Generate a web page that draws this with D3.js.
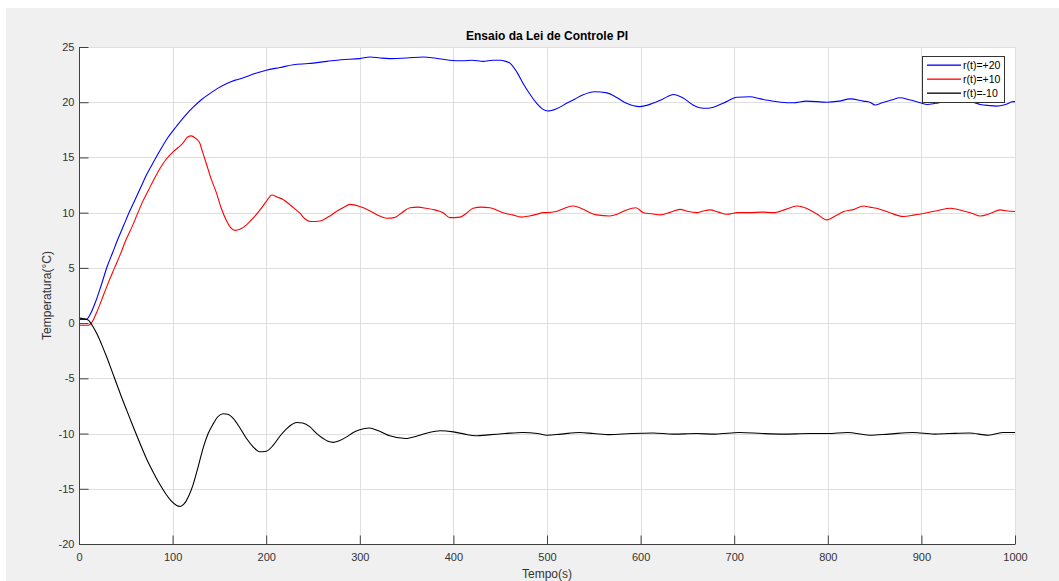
<!DOCTYPE html>
<html>
<head>
<meta charset="utf-8">
<script src="https://cdn.jsdelivr.net/npm/d3@7"></script>
<style>
  html, body { margin: 0; padding: 0; background: #ffffff; }
  svg { display: block; font-family: "Liberation Sans", Arial, Helvetica, sans-serif; }
</style>
</head>
<body>
<svg id="chart" width="1059" height="581"></svg>
<script>
// Step responses of the PI controller for three set-points (time in s, temperature in °C)
const tBlue = [0, 8, 12, 18, 24, 30, 36, 42, 48, 54, 60, 66, 72, 79, 87, 95, 104, 113, 122, 131, 140, 149, 158, 167, 175, 188, 200, 215, 229, 245, 265, 280, 300, 311, 322, 332, 350, 368, 380, 396, 410, 420, 432, 442, 450, 456, 461, 468, 474.5, 482, 489, 495, 501, 510, 521, 530, 538, 551, 564, 575, 585, 599, 613, 624, 635, 645, 656, 663, 672, 688, 703, 717, 728, 738, 750, 763, 777, 799, 812, 824, 838, 845, 850.5, 858, 868, 877, 888, 895, 906, 915, 925, 940, 955, 963, 972, 980, 990, 998, 1000];
const vBlue = [0.33, 0.35, 0.8, 2.0, 3.5, 5.1, 6.4, 7.7, 8.9, 10.1, 11.2, 12.3, 13.4, 14.5, 15.7, 16.8, 17.8, 18.75, 19.55, 20.25, 20.8, 21.3, 21.7, 22.0, 22.2, 22.6, 22.9, 23.15, 23.4, 23.5, 23.7, 23.85, 23.95, 24.1, 24.0, 23.95, 24.0, 24.1, 24.0, 23.8, 23.75, 23.8, 23.7, 23.8, 23.8, 23.7, 23.5, 22.7, 21.7, 20.7, 19.9, 19.4, 19.2, 19.4, 19.9, 20.3, 20.65, 20.95, 20.85, 20.4, 19.9, 19.6, 19.9, 20.3, 20.7, 20.4, 19.75, 19.5, 19.45, 19.9, 20.45, 20.5, 20.3, 20.15, 20.0, 19.95, 20.1, 20.0, 20.1, 20.3, 20.1, 20.0, 19.75, 19.95, 20.2, 20.4, 20.2, 20.05, 19.8, 19.9, 20.05, 20.1, 20.0, 19.8, 19.7, 19.65, 19.8, 20.05, 20.05];

const tRed = [0, 10, 14, 20, 26, 32, 38, 44, 50, 56, 62, 68, 74, 80, 86.5, 92, 97, 101, 106, 111, 116, 120, 125, 129, 132, 136, 141, 147, 152, 158, 162, 166.7, 172, 179, 186, 193, 200, 206, 212, 218, 227, 236, 242, 246.8, 257.5, 266, 275, 283, 289.5, 300, 310, 320, 329, 337, 345, 353.6, 362, 371, 380, 389, 396, 407, 414, 421, 430, 439, 446, 453, 463, 473, 481, 489, 496, 500, 510, 520, 528, 539, 546, 553, 567, 576, 585, 595, 603, 612, 621, 632, 642, 651, 660, 667, 674, 683, 692, 704, 717, 730, 742, 755, 767, 777, 788, 799, 808, 817, 828, 838, 845, 852, 866, 880.6, 893, 906, 918, 931, 945, 954, 963, 974, 984, 992, 1000];
const vRed = [-0.2, -0.2, 0.1, 1.2, 2.5, 3.8, 5.0, 6.2, 7.5, 8.6, 9.8, 11.0, 12.0, 13.0, 14.0, 14.7, 15.2, 15.55, 15.9, 16.3, 16.85, 16.95, 16.7, 16.3, 15.5, 14.45, 13.1, 11.75, 10.4, 9.2, 8.65, 8.4, 8.5, 8.9, 9.5, 10.2, 11.0, 11.6, 11.4, 11.2, 10.6, 9.95, 9.4, 9.2, 9.25, 9.6, 10.1, 10.5, 10.75, 10.55, 10.2, 9.75, 9.5, 9.55, 10.0, 10.45, 10.5, 10.4, 10.25, 10.0, 9.55, 9.6, 9.95, 10.4, 10.5, 10.45, 10.25, 10.0, 9.8, 9.6, 9.7, 9.85, 10.0, 10.0, 10.1, 10.45, 10.6, 10.3, 10.0, 9.8, 9.7, 9.9, 10.25, 10.45, 10.0, 9.9, 9.8, 10.05, 10.3, 10.1, 10.0, 10.15, 10.25, 10.05, 9.85, 10.0, 10.0, 10.05, 10.0, 10.3, 10.6, 10.4, 9.9, 9.35, 9.7, 10.1, 10.3, 10.6, 10.5, 10.4, 10.0, 9.65, 9.8, 10.0, 10.2, 10.4, 10.15, 9.95, 9.7, 9.95, 10.25, 10.15, 10.1];

const tBlack = [0, 5, 10, 14, 19, 24, 29.5, 35, 40, 45, 51, 58, 65, 72, 79, 86, 93, 99, 104, 108, 112, 117, 122, 127, 133, 138, 143.5, 148, 154, 159, 165, 172, 179, 186, 193, 200, 207.6, 215, 222, 227, 232.5, 239, 246.8, 254, 261, 266, 271.6, 278, 286, 293, 300, 310, 320, 332, 349, 362, 374, 386, 400, 412, 423.6, 440, 455, 474, 490, 500, 515, 534.6, 550, 567, 590, 613, 635, 659.5, 680, 705.7, 730, 752, 780, 800, 821, 844.5, 865, 890.8, 913.8, 930, 951, 971.7, 988, 1000];
const vBlack = [0.45, 0.4, 0.27, -0.2, -0.95, -1.9, -3.05, -4.3, -5.45, -6.6, -7.9, -9.4, -10.85, -12.25, -13.45, -14.55, -15.5, -16.15, -16.5, -16.6, -16.4, -15.7, -14.6, -13.1, -11.2, -10.0, -9.1, -8.5, -8.2, -8.25, -8.65, -9.5, -10.45, -11.2, -11.65, -11.6, -11.05, -10.2, -9.55, -9.2, -9.0, -9.05, -9.4, -10.0, -10.45, -10.7, -10.8, -10.65, -10.3, -9.9, -9.65, -9.5, -9.75, -10.2, -10.45, -10.2, -9.9, -9.75, -9.85, -10.05, -10.2, -10.1, -10.0, -9.9, -10.0, -10.15, -10.05, -9.9, -10.0, -10.1, -10.0, -9.95, -10.05, -10.0, -10.05, -9.9, -10.0, -10.05, -10.0, -10.0, -9.9, -10.15, -10.05, -9.9, -10.05, -10.0, -9.95, -10.15, -9.9, -9.9];

const seriesNames = ["r(t)=+20", "r(t)=+10", "r(t)=-10"];
const seriesColors = ["#0000ff", "#ff0000", "#000000"];
const xTicks = [0, 100, 200, 300, 400, 500, 600, 700, 800, 900, 1000];
const yTicks = [-20, -15, -10, -5, 0, 5, 10, 15, 20, 25];
const titleText = "Ensaio da Lei de Controle PI";
const xLabel = "Tempo(s)";
const yLabel = "Temperatura(°C)";

const series = [
  { name: seriesNames[0], color: seriesColors[0], pts: tBlue.map((t, i) => [t, vBlue[i]]) },
  { name: seriesNames[1], color: seriesColors[1], pts: tRed.map((t, i) => [t, vRed[i]]) },
  { name: seriesNames[2], color: seriesColors[2], pts: tBlack.map((t, i) => [t, vBlack[i]]) }
];

const W = 1059, H = 581;
const plot = { left: 79, right: 1015, top: 47, bottom: 544 };

const svg = d3.select("#chart");

// figure background
svg.append("rect").attr("x", 0).attr("y", 0).attr("width", W).attr("height", H).attr("fill", "#ffffff");
svg.append("rect").attr("x", 6).attr("y", 8).attr("width", W - 6).attr("height", H - 8).attr("fill", "#f0f0f0");

const x = d3.scaleLinear().domain([0, 1000]).range([plot.left, plot.right]);
const y = d3.scaleLinear().domain([-20, 25]).range([plot.bottom, plot.top]);

// axes area
svg.append("rect")
  .attr("x", plot.left).attr("y", plot.top)
  .attr("width", plot.right - plot.left).attr("height", plot.bottom - plot.top)
  .attr("fill", "#ffffff");

// grid
const grid = svg.append("g").attr("stroke", "#dfdfdf").attr("stroke-width", 1);
grid.selectAll("line.gx").data(xTicks).join("line").attr("class", "gx")
  .attr("x1", d => Math.round(x(d)) + 0.5).attr("x2", d => Math.round(x(d)) + 0.5)
  .attr("y1", plot.top).attr("y2", plot.bottom);
grid.selectAll("line.gy").data(yTicks).join("line").attr("class", "gy")
  .attr("y1", d => Math.round(y(d)) + 0.5).attr("y2", d => Math.round(y(d)) + 0.5)
  .attr("x1", plot.left).attr("x2", plot.right);

// data lines
svg.append("clipPath").attr("id", "clip")
  .append("rect")
  .attr("x", plot.left).attr("y", plot.top)
  .attr("width", plot.right - plot.left + 1).attr("height", plot.bottom - plot.top + 1);

const line = d3.line()
  .x(d => x(d[0]))
  .y(d => y(d[1]))
  .curve(d3.curveMonotoneX);

svg.append("g").attr("clip-path", "url(#clip)")
  .selectAll("path").data(series).join("path")
  .attr("d", d => line(d.pts))
  .attr("fill", "none")
  .attr("stroke", d => d.color)
  .attr("stroke-width", 1.1)
  .attr("stroke-linejoin", "round");

// axes (ticks pointing inward, plain hyphen for negative numbers)
const tickLen = 9;
const plainFormat = d => String(d);
const xAxis = d3.axisBottom(x).tickValues(xTicks).tickSizeInner(-tickLen).tickSizeOuter(0).tickPadding(9).tickFormat(plainFormat);
const yAxis = d3.axisLeft(y).tickValues(yTicks).tickSizeInner(-tickLen).tickSizeOuter(0).tickPadding(5).tickFormat(plainFormat);

const gx = svg.append("g").attr("transform", `translate(0,${plot.bottom + 0.5})`).call(xAxis);
const gy = svg.append("g").attr("transform", `translate(${plot.left + 0.5},0)`).call(yAxis);

[gx, gy].forEach(g => {
  g.select(".domain").attr("stroke", "#404040").attr("stroke-width", 1);
  g.selectAll(".tick line").attr("stroke", "#404040");
  g.selectAll(".tick text")
    .attr("fill", "#333333")
    .attr("font-size", 11)
    .attr("font-family", "Liberation Sans, Arial, sans-serif");
});
gx.select(".domain").attr("d", `M${plot.left},0H${plot.right}`);
gy.select(".domain").attr("d", `M0,${plot.top}V${plot.bottom}`);
gx.selectAll(".tick text").attr("y", 9).attr("dy", "0.71em");
gy.selectAll(".tick text").attr("x", -5);

// title and axis labels
svg.append("text")
  .attr("x", (plot.left + plot.right) / 2).attr("y", 40)
  .attr("text-anchor", "middle")
  .attr("font-size", 12).attr("font-weight", "bold").attr("fill", "#000000")
  .text(titleText);

svg.append("text")
  .attr("x", (plot.left + plot.right) / 2).attr("y", 578)
  .attr("text-anchor", "middle")
  .attr("font-size", 12).attr("fill", "#333333")
  .text(xLabel);

svg.append("text")
  .attr("transform", `translate(51,${(plot.top + plot.bottom) / 2}) rotate(-90)`)
  .attr("text-anchor", "middle")
  .attr("font-size", 12).attr("fill", "#333333")
  .text(yLabel);

// legend
const legend = svg.append("g").attr("class", "legend");
legend.append("rect")
  .attr("x", 922.5).attr("y", 56.5).attr("width", 82).attr("height", 46)
  .attr("fill", "#ffffff").attr("stroke", "#333333").attr("stroke-width", 1);

legend.selectAll("rect.key").data(series).join("rect").attr("class", "key")
  .attr("x", 927).attr("width", 34)
  .attr("y", (d, i) => 64.5 + i * 14).attr("height", 1.3)
  .attr("fill", d => d.color);

legend.selectAll("text.lbl").data(series).join("text").attr("class", "lbl")
  .attr("x", 963).attr("y", (d, i) => 69 + i * 14)
  .attr("font-size", 10.5).attr("fill", "#000000")
  .text(d => d.name);
</script>
</body>
</html>
